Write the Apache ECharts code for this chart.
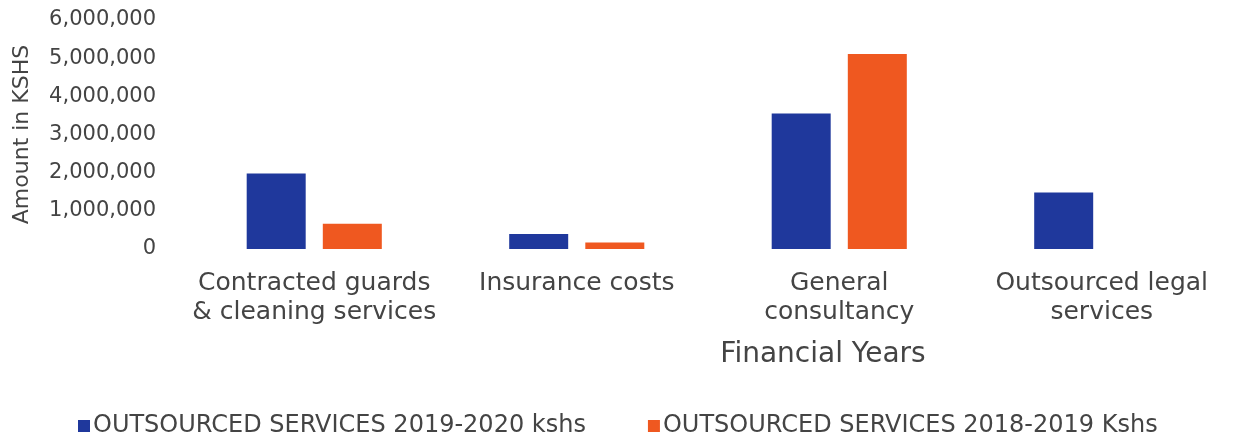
<!DOCTYPE html>
<html>
<head>
<meta charset="utf-8">
<title>Outsourced services</title>
<script src="https://cdn.jsdelivr.net/npm/echarts@6/dist/echarts.min.js"></script>
<style>
  html, body { margin: 0; padding: 0; background: #fff; }
  #chart { width: 1233px; height: 441px; }
</style>
</head>
<body>
<div id="chart"></div>
<script>
// 数据
var categories = [
  'Contracted guards\n& cleaning services',
  'Insurance costs',
  'General\nconsultancy',
  'Outsourced legal\nservices'
]
var seriesNames = [
  'OUTSOURCED SERVICES 2019-2020 kshs',
  'OUTSOURCED SERVICES 2018-2019 Kshs'
]
var values2019 = [1980000, 390000, 3550000, 1480000]
var values2018 = [660000, 170000, 5110000, null]
var yTicks = { min: 0, max: 6000000, interval: 1000000 }

var textColor = '#444444'
var font = 'DejaVu Sans'

var chart = echarts.init(document.getElementById('chart'))
var option = {
  color: ['#1f389c', '#ef5820'],
  animation: false,
  grid: {
    left: 183,
    top: 20,
    width: 1060,
    height: 229
  },
  legend: {
    data: seriesNames,
    left: 78,
    top: 414,
    padding: 0,
    icon: 'rect',
    itemWidth: 12,
    itemHeight: 12,
    itemGap: 62,
    textStyle: {
      fontFamily: font,
      fontSize: 24,
      color: textColor,
      padding: [0, 0, 0, -2]
    }
  },
  xAxis: {
    type: 'category',
    data: categories,
    axisLine: { show: false },
    axisTick: { show: false },
    axisLabel: {
      interval: 0,
      margin: 20,
      fontFamily: font,
      fontSize: 25,
      lineHeight: 29,
      color: textColor
    },
    name: 'Financial Years',
    nameLocation: 'middle',
    nameGap: 92,
    nameTextStyle: {
      fontFamily: font,
      fontSize: 28,
      color: textColor,
      padding: [0, 0, 0, 230]
    }
  },
  yAxis: {
    type: 'value',
    min: yTicks.min,
    max: yTicks.max,
    interval: yTicks.interval,
    splitLine: { show: false },
    axisLine: { show: false },
    axisTick: { show: false },
    axisLabel: {
      margin: 27,
      fontFamily: font,
      fontSize: 21,
      color: textColor,
      formatter: function (v) {
        return v.toLocaleString('en-US')
      }
    },
    name: 'Amount in KSHS',
    nameLocation: 'middle',
    nameGap: 150,
    nameTextStyle: {
      fontFamily: font,
      fontSize: 22,
      color: textColor
    }
  },
  series: [
    {
      name: seriesNames[0],
      type: 'bar',
      barWidth: 59,
      barGap: '29%',
      data: values2019
    },
    {
      name: seriesNames[1],
      type: 'bar',
      barWidth: 59,
      data: values2018
    }
  ]
}
chart.setOption(option)
</script>
</body>
</html>
